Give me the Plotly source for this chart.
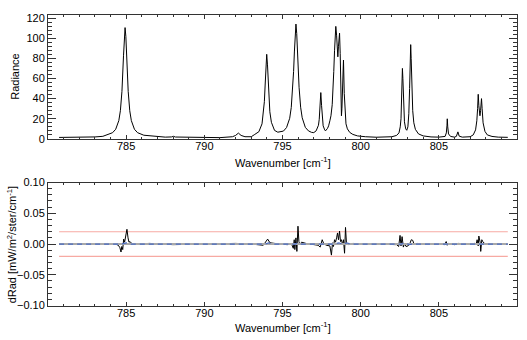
import plotly.graph_objects as go

# ---------------- data ----------------
wn_spec = [780.71, 782.01, 783.01, 783.51, 783.73, 784.13, 784.33, 784.53, 784.63, 784.73,
           784.83, 784.88, 784.93, 784.98, 785.03, 785.13, 785.23, 785.33, 785.53, 785.73,
           786.13, 786.93, 787.5, 787.9, 788.03, 788.15, 789.0, 790.0, 791.0, 791.8,
           792.0, 792.18, 792.35, 792.6, 793.0, 793.19, 793.49, 793.69, 793.79, 793.84,
           793.89, 793.94, 793.99, 794.04, 794.09, 794.14, 794.19, 794.29, 794.49, 794.7,
           794.9, 795.06, 795.26, 795.46, 795.56, 795.66, 795.71, 795.76, 795.81, 795.86,
           795.91, 795.96, 796.01, 796.06, 796.16, 796.26, 796.46, 796.66, 796.86, 797.0,
           797.15, 797.25, 797.3, 797.35, 797.4, 797.45, 797.5, 797.55, 797.6, 797.7,
           797.75, 797.88, 797.95, 798.03, 798.1, 798.18, 798.23, 798.28, 798.33, 798.37,
           798.41, 798.46, 798.5, 798.54, 798.58, 798.62, 798.65, 798.69, 798.72, 798.75,
           798.77, 798.8, 798.84, 798.87, 798.9, 798.95, 799.0, 799.06, 799.15, 799.3,
           799.5, 799.8, 800.3, 801.0, 802.0, 802.3, 802.45, 802.53, 802.58, 802.62,
           802.65, 802.67, 802.7, 802.74, 802.8, 802.88, 802.95, 803.02, 803.08, 803.13,
           803.17, 803.2, 803.23, 803.28, 803.33, 803.4, 803.5, 803.7, 804.0, 804.5,
           805.0, 805.4, 805.48, 805.52, 805.54, 805.57, 805.62, 805.75, 806.0, 806.12,
           806.22, 806.3, 806.5, 807.0, 807.2, 807.35, 807.43, 807.48, 807.52, 807.56,
           807.6, 807.63, 807.67, 807.7, 807.73, 807.77, 807.83, 807.95, 808.1, 808.4,
           808.8, 809.41]
radiance = [1.5, 1.6, 2.0, 2.6, 3.7, 6.2, 9.6, 18.2, 28.0, 47.2,
            82.5, 101.8, 110.5, 101.8, 82.5, 47.2, 28.0, 18.2, 9.6, 6.2,
            3.7, 2.3, 1.8, 2.0, 2.6, 1.9, 1.5, 1.2, 1.3, 2.2,
            3.5, 5.8, 3.5, 2.2, 2.2, 4.1, 7.2, 15.0, 26.4, 37.0,
            53.5, 73.4, 84.0, 73.5, 54.0, 37.5, 27.0, 16.5, 8.5, 6.7,
            6.9, 7.8, 11.3, 20.5, 31.2, 51.3, 67.0, 86.3, 104.5, 114.0,
            104.5, 86.3, 67.0, 51.3, 31.5, 21.0, 11.5, 8.0, 6.5, 6.3,
            8.0, 11.0, 13.6, 19.5, 32.0, 46.0, 33.0, 20.5, 13.0, 9.0,
            8.0, 10.5, 13.0, 18.0, 23.0, 34.0, 47.0, 67.0, 88.0, 104.0,
            111.7, 103.0, 90.0, 81.5, 92.0, 102.0, 105.0, 85.0, 55.0, 32.0,
            23.0, 30.0, 50.0, 68.0, 78.3, 45.0, 25.0, 15.0, 10.0, 6.5,
            4.5, 3.0, 2.2, 1.7, 2.2, 3.5, 6.0, 12.0, 20.0, 38.0,
            58.0, 70.0, 60.0, 35.0, 17.0, 10.0, 8.6, 12.0, 25.0, 50.0,
            80.0, 93.6, 80.0, 48.0, 28.0, 16.0, 9.5, 5.0, 3.0, 2.0,
            1.8, 2.5, 6.0, 13.0, 20.0, 12.0, 5.0, 2.5, 1.8, 2.5,
            7.0, 2.8, 1.8, 2.2, 4.0, 9.0, 18.0, 30.0, 44.3, 33.0,
            24.0, 23.0, 28.0, 36.0, 40.0, 30.0, 16.0, 7.5, 4.0, 2.5,
            1.8, 1.6]

wn_diff = [780.71, 784.3, 784.5, 784.6, 784.67, 784.72, 784.78, 784.84, 784.9, 784.97,
           785.05, 785.12, 785.18, 785.25, 785.35, 785.5, 786.5, 788.0, 790.0, 792.0,
           793.0, 793.77, 794.05, 794.2, 794.5, 795.0, 795.3, 795.58, 795.69, 795.75,
           795.79, 795.86, 795.92, 795.99, 796.05, 796.11, 796.22, 796.5, 797.0, 797.28,
           797.41, 797.54, 797.63, 797.8, 798.03, 798.13, 798.2, 798.26, 798.33, 798.39,
           798.46, 798.52, 798.58, 798.65, 798.71, 798.77, 798.84, 798.9, 798.97, 799.03,
           799.09, 799.2, 799.5, 800.0, 801.0, 802.0, 802.3, 802.43, 802.52, 802.58,
           802.65, 802.73, 802.81, 802.9, 803.03, 803.15, 803.24, 803.33, 803.41, 803.6,
           804.0, 805.0, 805.37, 805.47, 805.54, 805.62, 806.0, 806.22, 807.0, 807.3,
           807.39, 807.45, 807.52, 807.56, 807.65, 807.68, 807.75, 807.81, 807.92, 808.2,
           809.41]
drad = [0.0, 0.0, -0.002, -0.006, -0.013, -0.004, -0.009, 0.008, 0.003, 0.015,
        0.024, 0.010, 0.003, 0.004, 0.001, 0.0, 0.001, -0.001, 0.0, 0.001,
        0.0, -0.002, 0.008, 0.002, 0.001, 0.0, -0.001, 0.0, -0.007, 0.007,
        -0.009, 0.010, -0.012, 0.029, 0.004, -0.001, 0.003, 0.001, -0.001, -0.002,
        -0.005, 0.007, 0.001, -0.002, -0.003, -0.018, 0.002, -0.004, 0.007, 0.003,
        0.010, 0.018, 0.007, 0.021, 0.004, 0.007, -0.001, 0.007, -0.015, 0.027,
        0.002, -0.001, 0.001, 0.0, 0.0, 0.0, -0.001, -0.004, 0.014, -0.003,
        0.012, -0.005, 0.001, -0.004, -0.003, 0.001, 0.007, 0.006, 0.0, 0.001,
        0.0, 0.0, -0.001, 0.004, -0.002, 0.001, -0.001, 0.001, 0.0, 0.001,
        0.0, 0.007, -0.003, 0.013, 0.002, -0.012, 0.007, 0.004, 0.001, 0.0,
        0.0]

wn_blue = [780.71, 784.71, 785.01, 785.31, 793.91, 794.11, 794.31, 795.81, 796.01, 796.21,
           798.31, 798.61, 798.91, 799.11, 799.31, 802.61, 802.81, 803.11, 803.31, 807.51,
           807.71, 807.91, 809.41]
drad_blue = [0.0, 0.0, 0.002, 0.0, 0.0, 0.002, 0.0, 0.0, 0.002, 0.0,
             0.0, 0.002, -0.001, 0.002, 0.0, 0.0, 0.002, -0.001, 0.0, 0.0,
             0.001, 0.0, 0.0]

limit_x = [780.71, 809.41]
limit_hi = [0.02, 0.02]
limit_lo = [-0.02, -0.02]
zero_line = [0.0, 0.0]

x_tickvals = [785, 790, 795, 800, 805]
rad_tickvals = [0, 20, 40, 60, 80, 100, 120]
drad_tickvals = [-0.10, -0.05, 0.0, 0.05, 0.10]

x_range = [780, 810]
rad_range = [0, 123]
drad_range = [-0.1, 0.1]

# ---------------- layout geometry (pixels) ----------------
W, H = 527, 340
ML, MR, MT, MB = 48, 9, 9, 34
PH = H - MT - MB
def fy(py):
    return (H - MB - py) / PH

FONT = "Liberation Sans, Arial, Helvetica, sans-serif"
AXC = "#333333"

fig = go.Figure()
fig.add_trace(go.Scatter(x=wn_spec, y=radiance, mode="lines",
                         line=dict(color="black", width=1), xaxis="x", yaxis="y",
                         showlegend=False, hoverinfo="skip"))
fig.add_trace(go.Scatter(x=limit_x, y=limit_hi, mode="lines",
                         line=dict(color="#f7aaa3", width=1.2), xaxis="x2", yaxis="y2",
                         showlegend=False))
fig.add_trace(go.Scatter(x=limit_x, y=limit_lo, mode="lines",
                         line=dict(color="#f7aaa3", width=1.2), xaxis="x2", yaxis="y2",
                         showlegend=False))
fig.add_trace(go.Scatter(x=wn_diff, y=drad, mode="lines",
                         line=dict(color="black", width=1), xaxis="x2", yaxis="y2",
                         showlegend=False))
fig.add_trace(go.Scatter(x=limit_x, y=zero_line, mode="lines",
                         line=dict(color="#a9a9a9", width=2), xaxis="x2", yaxis="y2",
                         showlegend=False))
fig.add_trace(go.Scatter(x=wn_blue, y=drad_blue, mode="lines",
                         line=dict(color="#4a6cc4", width=1.2, dash="5px,4px"),
                         xaxis="x2", yaxis="y2", showlegend=False))

axis_common = dict(showline=True, linecolor=AXC, linewidth=1, mirror="allticks",
                   ticks="inside", showgrid=False, zeroline=False, tickcolor=AXC,
                   tickfont=dict(family=FONT, size=11, color="black"))

fig.update_layout(
    width=W, height=H,
    margin=dict(l=ML, r=MR, t=MT, b=MB, pad=0),
    paper_bgcolor="white", plot_bgcolor="white",
    font=dict(family=FONT, size=11, color="black"),
    xaxis=dict(axis_common, domain=[0, 1], anchor="y", range=x_range,
               tickvals=x_tickvals, ticklen=4, ticklabelstandoff=-3,
               minor=dict(dtick=1, tick0=780, ticklen=2, ticks="inside", tickcolor=AXC)),
    yaxis=dict(axis_common, domain=[fy(135.5), fy(9)], anchor="x", range=rad_range,
               tickvals=rad_tickvals, ticklen=8,
               minor=dict(dtick=4, tick0=0, ticklen=4, ticks="inside", tickcolor=AXC)),
    xaxis2=dict(axis_common, domain=[0, 1], anchor="y2", range=x_range,
                tickvals=x_tickvals, ticklen=4, ticklabelstandoff=-3,
                minor=dict(dtick=1, tick0=780, ticklen=2, ticks="inside", tickcolor=AXC)),
    yaxis2=dict(axis_common, domain=[fy(305.5), fy(180)], anchor="x2", range=drad_range,
                tickvals=drad_tickvals, tickformat=".2f", ticklen=8,
                minor=dict(dtick=0.01, tick0=0, ticklen=4, ticks="inside", tickcolor=AXC)),
    annotations=[
        dict(text="Wavenumber [cm<sup>-1</sup>]", xref="paper", yref="paper",
             x=0.5, y=fy(159), showarrow=False, xanchor="center", yanchor="middle",
             font=dict(family=FONT, size=11)),
        dict(text="Wavenumber [cm<sup>-1</sup>]", xref="paper", yref="paper",
             x=0.5, y=fy(327), showarrow=False, xanchor="center", yanchor="middle",
             font=dict(family=FONT, size=11)),
        dict(text="Radiance", xref="paper", yref="paper",
             x=(15 - ML) / (W - ML - MR), y=fy(72), showarrow=False, textangle=-90,
             xanchor="center", yanchor="middle", font=dict(family=FONT, size=11)),
        dict(text="dRad [mW/m<sup>2</sup>/ster/cm<sup>-1</sup>]", xref="paper", yref="paper",
             x=(12 - ML) / (W - ML - MR), y=fy(243), showarrow=False, textangle=-90,
             xanchor="center", yanchor="middle", font=dict(family=FONT, size=11)),
    ],
)

fig.write_html("out.html")
